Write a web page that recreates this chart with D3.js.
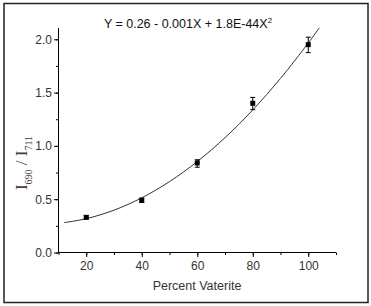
<!DOCTYPE html>
<html>
<head>
<meta charset="utf-8">
<script src="https://cdn.jsdelivr.net/npm/d3@7"></script>
<style>
  body { margin: 0; background: #fff; }
  svg { display: block; }
  .tick text { font-family: Arial, "Liberation Sans", sans-serif; font-size: 12px; fill: #333; }
</style>
</head>
<body>
<svg id="chart" width="371" height="306"></svg>
<script>
// measured points
const xPercent = [20, 40, 60, 80, 100];
const ratio = [0.33, 0.49, 0.84, 1.40, 1.95];
const errLow = [0.015, 0.02, 0.04, 0.06, 0.075];
const errHigh = [0.015, 0.02, 0.03, 0.055, 0.07];

// fitted curve
const curveX = [12, 20, 30, 40, 50, 60, 70, 80, 90, 100, 104];
const curveY = [0.28, 0.317, 0.397, 0.513, 0.665, 0.853, 1.077, 1.337, 1.633, 1.965, 2.108];

const xTicks = [20, 40, 60, 80, 100];
const yTicks = [0, 0.5, 1.0, 1.5, 2.0];

const svg = d3.select("#chart");
const margin = {left: 58.5, right: 35, top: 28, bottom: 53.5};
const width = 371, height = 306;

const x = d3.scaleLinear().domain([10, 110]).range([margin.left, width - margin.right]);
const y = d3.scaleLinear().domain([0, 2.106]).range([height - margin.bottom, margin.top]);

// outer frame
svg.append("rect")
  .attr("x", 4).attr("y", 3.5)
  .attr("width", 364).attr("height", 299)
  .attr("fill", "none").attr("stroke", "#222").attr("stroke-width", 1.5);

// minor ticks
svg.append("g")
  .attr("transform", `translate(0,${y(0)})`)
  .call(d3.axisBottom(x).tickValues(d3.range(10, 111, 10)).tickSize(2.5).tickFormat(""))
  .call(g => g.select(".domain").remove());
svg.append("g")
  .attr("transform", `translate(${x(10)},0)`)
  .call(d3.axisLeft(y).tickValues(d3.range(0, 2.01, 0.25)).tickSize(2.5).tickFormat(""))
  .call(g => g.select(".domain").remove());

// major axes
svg.append("g")
  .attr("transform", `translate(0,${y(0)})`)
  .call(d3.axisBottom(x).tickValues(xTicks).tickSize(4.5).tickSizeOuter(0).tickPadding(4))
  .call(g => g.select(".domain").attr("d", `M${x(10)},0H${x(110)}`));
svg.append("g")
  .attr("transform", `translate(${x(10)},0)`)
  .call(d3.axisLeft(y).tickValues(yTicks).tickSize(4.5).tickSizeOuter(0).tickPadding(2).tickFormat(d3.format(".1f")))
  .call(g => g.select(".domain").attr("d", `M0,${y(0)}V${y(2.106)}`));

// fit curve
const line = d3.line()
  .x(d => x(d[0])).y(d => y(d[1]))
  .curve(d3.curveCatmullRom);
svg.append("path")
  .datum(d3.zip(curveX, curveY))
  .attr("d", line)
  .attr("fill", "none").attr("stroke", "#333").attr("stroke-width", 1);

// error bars + markers
const pts = xPercent.map((v, i) => ({x: v, y: ratio[i], lo: ratio[i] - errLow[i], hi: ratio[i] + errHigh[i]}));
const eb = svg.append("g").attr("stroke", "#000").attr("stroke-width", 1);
pts.forEach(p => {
  eb.append("line").attr("x1", x(p.x)).attr("x2", x(p.x)).attr("y1", y(p.lo)).attr("y2", y(p.hi));
  eb.append("line").attr("x1", x(p.x) - 2.5).attr("x2", x(p.x) + 2.5).attr("y1", y(p.lo)).attr("y2", y(p.lo));
  eb.append("line").attr("x1", x(p.x) - 2.5).attr("x2", x(p.x) + 2.5).attr("y1", y(p.hi)).attr("y2", y(p.hi));
});
svg.append("g").selectAll("rect").data(pts).join("rect")
  .attr("x", d => x(d.x) - 2.5).attr("y", d => y(d.y) - 2.5)
  .attr("width", 5).attr("height", 5).attr("fill", "#000");

// equation
const eq = svg.append("text")
  .attr("x", 188).attr("y", 27.5).attr("text-anchor", "middle")
  .attr("font-family", "Arial, 'Liberation Sans', sans-serif").attr("font-size", 12.5).attr("fill", "#111");
eq.append("tspan").text("Y = 0.26 - 0.001X + 1.8E-44X");
eq.append("tspan").attr("dy", -5).attr("font-size", 8).text("2");

// x label
svg.append("text")
  .attr("x", 197).attr("y", 290).attr("text-anchor", "middle")
  .attr("font-family", "Arial, 'Liberation Sans', sans-serif").attr("font-size", 12.5).attr("fill", "#333")
  .text("Percent Vaterite");

// y label
const yl = svg.append("text")
  .attr("transform", "translate(27,163) rotate(-90)")
  .attr("text-anchor", "middle")
  .attr("font-family", "'Liberation Serif', 'DejaVu Serif', serif").attr("font-size", 17).attr("fill", "#4a3c3c");
yl.append("tspan").text("I");
yl.append("tspan").attr("dy", 4.5).attr("font-size", 10).text("690");
yl.append("tspan").attr("dy", -4.5).text(" / I");
yl.append("tspan").attr("dy", 4.5).attr("font-size", 10).text("711");
</script>
</body>
</html>
